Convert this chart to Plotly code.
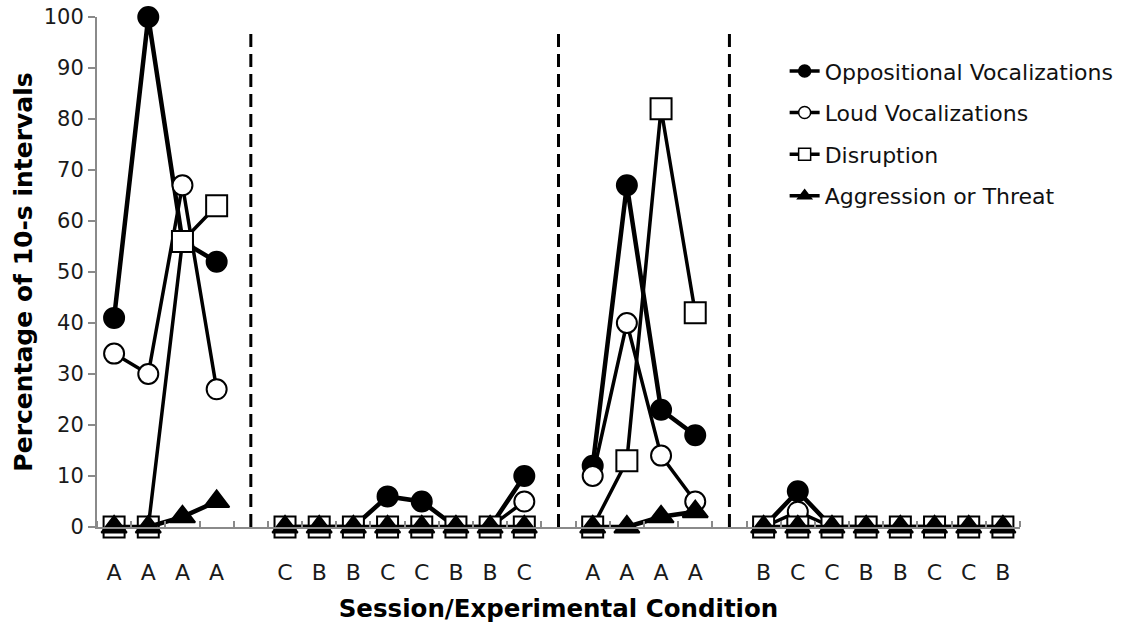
import plotly.graph_objects as go

# ---- data ----
slots = list(range(1, 28))
condition_labels = ["A", "A", "A", "A", "",
                    "C", "B", "B", "C", "C", "B", "B", "C", "",
                    "A", "A", "A", "A", "",
                    "B", "C", "C", "B", "B", "C", "C", "B"]
oppositional = [41, 100, 56, 52, None,
                0, 0, 0, 6, 5, 0, 0, 10, None,
                12, 67, 23, 18, None,
                0, 7, 0, 0, 0, 0, 0, 0]
loud = [34, 30, 67, 27, None,
        0, 0, 0, 0, 0, 0, 0, 5, None,
        10, 40, 14, 5, None,
        0, 3, 0, 0, 0, 0, 0, 0]
disruption = [0, 0, 56, 63, None,
              0, 0, 0, 0, 0, 0, 0, 0, None,
              0, 13, 82, 42, None,
              0, 0, 0, 0, 0, 0, 0, 0]
aggression = [0, 0, 2, 5, None,
              0, 0, 0, 0, 0, 0, 0, 0, None,
              0, 0, 2, 3, None,
              0, 0, 0, 0, 0, 0, 0, 0]
phase_lines = [5, 14, 19]
y_ticks = [0, 10, 20, 30, 40, 50, 60, 70, 80, 90, 100]

FONT = "DejaVu Sans"
series = [
    ("Oppositional Vocalizations", oppositional, "circle", "black", 4.5),
    ("Loud Vocalizations", loud, "circle", "white", 3.5),
    ("Disruption", disruption, "square", "white", 3.5),
    ("Aggression or Threat", aggression, "triangle-up", "black", 4.5),
]
sizes = {"circle": 20, "square": 21, "triangle-up": 22}

fig = go.Figure()
for name, vals, sym, fill, lw in series:
    fig.add_trace(go.Scatter(
        x=slots, y=vals, mode="lines+markers", name=name, showlegend=False,
        connectgaps=False, cliponaxis=False,
        line=dict(color="black", width=lw),
        marker=dict(symbol=sym, size=sizes[sym], color=fill,
                    line=dict(color="black", width=2)),
    ))
# legend entries (smaller symbols)
for i, (name, vals, sym, fill, lw) in enumerate(series):
    fig.add_trace(go.Scatter(
        x=[None], y=[None], mode="lines+markers", name=name,
        legendgroup=f"g{i}",
        line=dict(color="black", width=3.5),
        marker=dict(symbol=sym, size=12, color=fill,
                    line=dict(color="black", width=1.5)),
    ))

for xp in phase_lines:
    fig.add_shape(type="line", xref="x", yref="y", x0=xp, x1=xp, y0=0, y1=97,
                  line=dict(color="black", width=3, dash="13px,7px"))

fig.update_layout(
    width=1129, height=631,
    margin=dict(l=97, r=109, t=17, b=104, autoexpand=False),
    paper_bgcolor="white", plot_bgcolor="white",
    font=dict(family=FONT, color="#1a1a1a", size=20),
    legend=dict(x=0.745, y=0.935, xanchor="left", yanchor="top",
                font=dict(family=FONT, size=22, color="#111111"),
                tracegroupgap=10, bgcolor="rgba(0,0,0,0)"),
)
fig.update_xaxes(
    range=[0.5, 27.5], showgrid=False, zeroline=False,
    showline=True, linecolor="#8a8a8a", linewidth=2,
    tickmode="array", tickvals=slots, ticktext=condition_labels,
    ticks="", ticklabelstandoff=25,
    tickfont=dict(family=FONT, size=22, color="#1a1a1a"),
    minor=dict(tickmode="array", tickvals=[s + 0.5 for s in range(0, 28)],
               ticks="inside", ticklen=6, tickcolor="#8a8a8a", tickwidth=1.5),
    title=dict(text="<b>Session/Experimental Condition</b>", standoff=15,
               font=dict(family=FONT, size=24.5, color="black")),
)
fig.update_yaxes(
    range=[0, 100], showgrid=False, zeroline=False,
    showline=True, linecolor="#8a8a8a", linewidth=2,
    tickmode="array", tickvals=y_ticks,
    ticks="outside", ticklen=7, tickcolor="#8a8a8a", tickwidth=1.5,
    tickfont=dict(family=FONT, size=21, color="#1a1a1a"),
    title=dict(text="<b>Percentage of 10-s intervals</b>", standoff=4,
               font=dict(family=FONT, size=25, color="black")),
)

fig.write_html("out.html", config={"displayModeBar": False},
               post_script="document.body.style.margin='0';")
